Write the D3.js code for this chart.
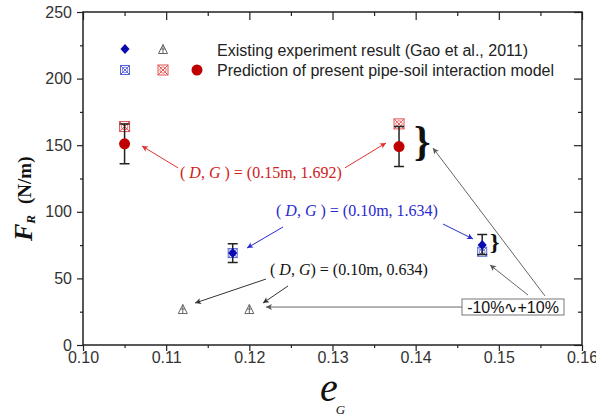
<!DOCTYPE html>
<html><head><meta charset="utf-8">
<script src="https://cdn.jsdelivr.net/npm/d3@7"></script>
<style>
body{margin:0;background:#fff;}
svg{display:block;}
</style></head>
<body>
<svg id="chart" width="596" height="419"></svg>
<script>
// ---------- data ----------
const xTicks = [0.10, 0.11, 0.12, 0.13, 0.14, 0.15, 0.16];
const xMinor = [0.105, 0.115, 0.125, 0.135, 0.145, 0.155];
const yTicks = [0, 50, 100, 150, 200, 250];
const yMinor = [25, 75, 125, 175, 225];

// prediction (red) group
const predX = [0.105, 0.138];
const predY = [151, 149];
const predLow = [136, 134];
const predHigh = [166, 164];
const predSquareY = [164, 166];

// existing experiment (blue) group
const expX = [0.118, 0.148];
const expY = [69, 75];
const expLow = [62, 68];
const expHigh = [76, 83];
const expCrossY = [69, 70];

// existing experiment (grey triangles)
const triX = [0.112, 0.120];
const triY = [27, 27];

const legendLabels = ["Existing experiment result (Gao et al., 2011)",
                      "Prediction of present pipe-soil interaction model"];

// ---------- setup ----------
const svg = d3.select("#chart");
const x = d3.scaleLinear().domain([0.10, 0.16]).range([83, 582]);
const y = d3.scaleLinear().domain([0, 250]).range([345, 12]);

const axisColor = "#222";
const RED = "#c00000", RED2 = "#e05050", BLUE = "#0a0ab0", BLUE2 = "#5a66d8", GREY = "#666";
const SERIF = "Liberation Serif, Times New Roman, serif";
const SANS = "Liberation Sans, Arial, sans-serif";

// defs for arrowheads
const defs = svg.append("defs");
function marker(id, color) {
  defs.append("marker").attr("id", id).attr("viewBox", "0 0 10 10")
    .attr("refX", 10).attr("refY", 5).attr("markerWidth", 9).attr("markerHeight", 6)
    .attr("markerUnits", "userSpaceOnUse").attr("orient", "auto")
    .append("path").attr("d", "M0,0 L10,5 L0,10 L2.5,5 Z").attr("fill", color);
}
marker("arRed", "#e03030");
marker("arBlue", "#2a2ad0");
marker("arBlack", "#333");
marker("arGrey", "#555");

// ---------- axes ----------
function styleAxis(g) {
  g.select(".domain").remove();
  g.selectAll("line").attr("stroke", axisColor).attr("stroke-width", 1.2);
  g.selectAll("text").attr("font-family", SANS).attr("font-size", 16).attr("fill", "#333");
}
// bottom
svg.append("g").attr("transform", "translate(0,345)")
  .call(d3.axisBottom(x).tickValues(xTicks).tickFormat(d3.format(".2f")).tickSize(6).tickPadding(1))
  .call(styleAxis);
svg.append("g").attr("transform", "translate(0,345)")
  .call(d3.axisBottom(x).tickValues(xMinor).tickFormat("").tickSize(3)).call(styleAxis);
// left
svg.append("g").attr("transform", "translate(83,0)")
  .call(d3.axisLeft(y).tickValues(yTicks).tickFormat(d3.format("d")).tickSize(6).tickPadding(5))
  .call(styleAxis);
svg.append("g").attr("transform", "translate(83,0)")
  .call(d3.axisLeft(y).tickValues(yMinor).tickFormat("").tickSize(3)).call(styleAxis);
// right (inward)
svg.append("g").attr("transform", "translate(582,0)")
  .call(d3.axisLeft(y).tickValues(yTicks).tickFormat("").tickSize(8)).call(styleAxis);
svg.append("g").attr("transform", "translate(582,0)")
  .call(d3.axisLeft(y).tickValues(yMinor).tickFormat("").tickSize(4)).call(styleAxis);
// top (inward)
svg.append("g").attr("transform", "translate(0,12)")
  .call(d3.axisBottom(x).tickValues(xTicks).tickFormat("").tickSize(8)).call(styleAxis);
svg.append("g").attr("transform", "translate(0,12)")
  .call(d3.axisBottom(x).tickValues(xMinor).tickFormat("").tickSize(4)).call(styleAxis);
// frame
svg.append("rect").attr("x", x(0.10)).attr("y", y(250))
  .attr("width", x(0.16) - x(0.10)).attr("height", y(0) - y(250))
  .attr("fill", "none").attr("stroke", axisColor).attr("stroke-width", 1.5);

// ---------- axis titles ----------
const yl = svg.append("text").attr("transform", "translate(32,241) rotate(-90)")
  .attr("font-family", SERIF).attr("font-weight", "bold").attr("fill", "#111");
yl.append("tspan").attr("font-style", "italic").attr("font-size", 26).text("F");
yl.append("tspan").attr("font-style", "italic").attr("font-size", 13).attr("dy", 3).text("R");
svg.append("text").attr("transform", "translate(31,204) rotate(-90)")
  .attr("font-family", SERIF).attr("font-weight", "bold").attr("font-size", 19).attr("fill", "#111")
  .text("(N/m)");

const xl = svg.append("text").attr("x", 320).attr("y", 401)
  .attr("font-family", SERIF).attr("fill", "#111");
xl.append("tspan").attr("font-style", "italic").attr("font-size", 40).text("e");
xl.append("tspan").attr("font-style", "italic").attr("font-size", 13).attr("dy", 13).attr("dx", -2).text("G");

// ---------- symbols ----------
function crossSquare(g, cx, cy, s, color) {
  g.append("rect").attr("x", cx - s / 2).attr("y", cy - s / 2).attr("width", s).attr("height", s)
    .attr("fill", "none").attr("stroke", color).attr("stroke-width", 1);
  g.append("path").attr("d", `M${cx - s / 2},${cy - s / 2}L${cx + s / 2},${cy + s / 2}M${cx + s / 2},${cy - s / 2}L${cx - s / 2},${cy + s / 2}`)
    .attr("stroke", color).attr("stroke-width", 1).attr("fill", "none");
  g.append("circle").attr("cx", cx).attr("cy", cy).attr("r", s * 0.32)
    .attr("fill", "none").attr("stroke", color).attr("stroke-width", 0.8);
}
function triangle(g, cx, cy, s, color) {
  g.append("path").attr("d", `M${cx},${cy - s / 2}L${cx + s / 2},${cy + s / 2}L${cx - s / 2},${cy + s / 2}Z M${cx},${cy - s / 2}L${cx},${cy + s / 2} M${cx - s / 4},${cy}L${cx + s / 4},${cy}`)
    .attr("fill", "none").attr("stroke", color).attr("stroke-width", 1);
}
function diamond(g, cx, cy, s, color) {
  g.append("path").attr("d", `M${cx},${cy - s / 2}L${cx + s / 2.2},${cy}L${cx},${cy + s / 2}L${cx - s / 2.2},${cy}Z`)
    .attr("fill", color);
}
function errorBar(g, cx, lo, hi) {
  const w = 5;
  g.append("path").attr("d", `M${cx},${lo}L${cx},${hi}M${cx - w},${lo}L${cx + w},${lo}M${cx - w},${hi}L${cx + w},${hi}`)
    .attr("stroke", "#222").attr("stroke-width", 1.5).attr("fill", "none");
}

const marks = svg.append("g");
// red group
predX.forEach((v, i) => {
  crossSquare(marks, x(v), y(predSquareY[i]), 10, RED2);
  errorBar(marks, x(v), y(predLow[i]), y(predHigh[i]));
  marks.append("circle").attr("cx", x(v)).attr("cy", y(predY[i])).attr("r", 5.5).attr("fill", RED);
});
// blue group
expX.forEach((v, i) => {
  crossSquare(marks, x(v), y(expCrossY[i]), 9, BLUE2);
  errorBar(marks, x(v), y(expLow[i]), y(expHigh[i]));
  diamond(marks, x(v), y(expY[i]), 10, BLUE);
});
// triangles
triX.forEach((v, i) => triangle(marks, x(v), y(triY[i]), 9, GREY));

// ---------- legend ----------
const lg = svg.append("g");
diamond(lg, 125, 49, 10, BLUE);
triangle(lg, 163, 49, 9, GREY);
crossSquare(lg, 125, 70, 9, BLUE2);
crossSquare(lg, 163, 70, 10, RED2);
lg.append("circle").attr("cx", 197).attr("cy", 70).attr("r", 5.5).attr("fill", RED);
lg.selectAll("text.l").data(legendLabels).enter().append("text")
  .attr("x", 217).attr("y", (d, i) => 56 + i * 20)
  .attr("font-family", SANS).attr("font-size", 16).attr("fill", "#222")
  .text(d => d);

// ---------- annotations ----------
function dgLabel(px, py, color, rest, spaceBeforeParen) {
  const t = svg.append("text").attr("x", px).attr("y", py)
    .attr("font-family", SERIF).attr("font-size", 16).attr("fill", color);
  t.append("tspan").text("( ");
  t.append("tspan").attr("font-style", "italic").text("D");
  t.append("tspan").text(", ");
  t.append("tspan").attr("font-style", "italic").text("G");
  t.append("tspan").text((spaceBeforeParen ? " ) = " : ") = ") + rest);
}
dgLabel(180, 178, "#d02020", "(0.15m, 1.692)", true);
dgLabel(276, 216, "#2a2ad0", "(0.10m, 1.634)", true);
dgLabel(270, 275, "#111", "(0.10m, 0.634)", false);

// arrows defined in data coordinates [x1,y1,x2,y2]
const arrowsRed = [[0.11142, 133, 0.10709, 149.4], [0.13150, 133, 0.13643, 151.7]];
const arrowsBlue = [[0.12405, 88.6, 0.11972, 72.8], [0.14329, 90.8, 0.14690, 79.6]];
const arrowsBlack = [[0.12200, 49.5, 0.11347, 31.5], [0.12465, 44.3, 0.12164, 31.5]];
const arrowsGrey = [[0.14557, 28.5, 0.12200, 28.5], [0.15351, 37.5, 0.14894, 60.1], [0.15555, 36.8, 0.14208, 147.9]];
function drawArrows(list, color, mk, w) {
  svg.append("g").selectAll("line").data(list).enter().append("line")
    .attr("x1", d => x(d[0])).attr("y1", d => y(d[1]))
    .attr("x2", d => x(d[2])).attr("y2", d => y(d[3]))
    .attr("stroke", color).attr("stroke-width", w).attr("marker-end", `url(#${mk})`);
}
drawArrows(arrowsRed, "#e03030", "arRed", 1);
drawArrows(arrowsBlue, "#2a2ad0", "arBlue", 1);
drawArrows(arrowsBlack, "#333", "arBlack", 1);
drawArrows(arrowsGrey, "#666", "arGrey", 1);

// braces
svg.append("text").attr("x", 414).attr("y", 155).attr("font-family", SERIF)
  .attr("font-weight", "bold").attr("font-size", 42).attr("fill", "#111").text("}");
svg.append("text").attr("x", 490).attr("y", 250).attr("font-family", SERIF)
  .attr("font-weight", "bold").attr("font-size", 24).attr("fill", "#111").text("}");

// ±10% box
svg.append("rect").attr("x", 462).attr("y", 299).attr("width", 102).attr("height", 16)
  .attr("fill", "#fff").attr("stroke", "#777").attr("stroke-width", 1);
svg.append("text").attr("x", 513).attr("y", 313).attr("text-anchor", "middle")
  .attr("font-family", SANS).attr("font-size", 16).attr("fill", "#111")
  .text("-10%\u223F+10%");
</script>
</body></html>
